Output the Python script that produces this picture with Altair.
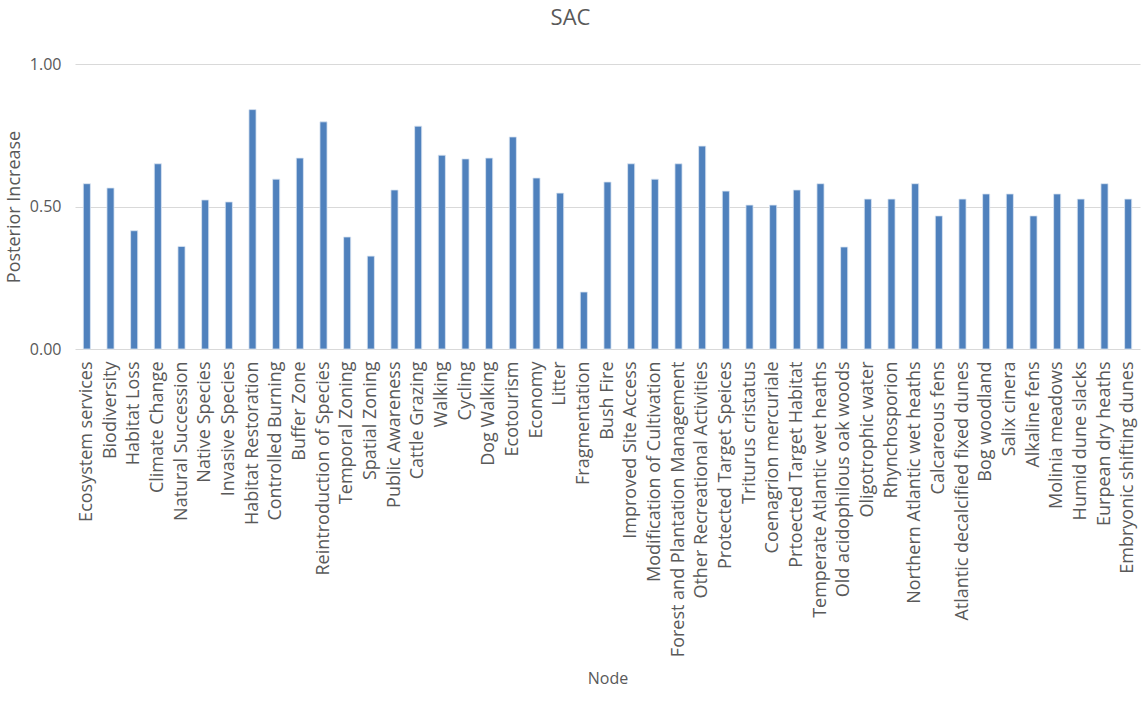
import altair as alt
import pandas as pd

nodes = [
    "Ecosystem services", "Biodiversity", "Habitat Loss", "Climate Change",
    "Natural Succession", "Native Species", "Invasive Species", "Habitat Restoration",
    "Controlled Burning", "Buffer Zone", "Reintroduction of Species", "Temporal Zoning",
    "Spatial Zoning", "Public Awareness", "Cattle Grazing", "Walking", "Cycling",
    "Dog Walking", "Ecotourism", "Economy", "Litter", "Fragmentation", "Bush Fire",
    "Improved Site Access", "Modification of Cultivation",
    "Forest and Plantation Management", "Other Recreational Activities",
    "Protected Target Speices", "Triturus cristatus", "Coenagrion mercuriale",
    "Prtoected Target Habitat", "Temperate Atlantic wet heaths",
    "Old acidophilous oak woods", "Oligotrophic water", "Rhynchosporion",
    "Northern Atlantic wet heaths", "Calcareous fens",
    "Atlantic decalcified fixed dunes", "Bog woodland", "Salix cinera",
    "Alkaline fens", "Molinia meadows", "Humid dune slacks", "Eurpean dry heaths",
    "Embryonic shifting dunes",
]
posterior_increase = [
    0.58, 0.565, 0.415, 0.65, 0.36, 0.523, 0.516, 0.84,
    0.596, 0.67, 0.797, 0.393, 0.326, 0.558, 0.782, 0.68, 0.667,
    0.67, 0.744, 0.60, 0.547, 0.20, 0.586, 0.65, 0.596,
    0.65, 0.712, 0.554, 0.505, 0.505, 0.558, 0.58,
    0.358, 0.526, 0.526, 0.58, 0.467, 0.526, 0.544, 0.544,
    0.467, 0.544, 0.526, 0.58, 0.526,
]

df = pd.DataFrame({"Node": nodes, "Value": posterior_increase})

FONT = "Open Sans"
GREY = "#595959"

chart = alt.Chart(df).mark_bar(
    color="#4F81BD", stroke="#DCE6F2", strokeWidth=0.8
).encode(
    x=alt.X("Node:N", sort=nodes, title="Node",
            scale=alt.Scale(paddingInner=0.7, paddingOuter=0.35),
            axis=alt.Axis(labelAngle=-90, labelPadding=12, ticks=False, domain=False,
                          labelFontSize=18, labelColor=GREY, labelFont=FONT,
                          titleFontSize=16, titleColor=GREY, titleFont=FONT,
                          titleFontWeight="normal", titleY=329, titleBaseline="middle",
                          labelLimit=400)),
    y=alt.Y("Value:Q", title="Posterior Increase",
            scale=alt.Scale(domain=[0, 1]),
            axis=alt.Axis(values=[0, 0.5, 1], format=".2f", ticks=False, domain=False,
                          labelFontSize=16, labelColor=GREY, labelFont=FONT,
                          labelPadding=14, gridColor="#D9D9D9", gridWidth=1,
                          titleFontSize=18, titleColor=GREY, titleFont=FONT,
                          titleFontWeight="normal", titlePadding=6)),
).properties(
    width=1065, height=285,
    title=alt.Title("SAC", fontSize=22, color=GREY, font=FONT, fontWeight="normal",
                    anchor="middle", dx=-37, offset=26),
    autosize=alt.AutoSizeParams(type="none"),
    padding={"left": 75, "top": 64, "right": 1, "bottom": 368},
).configure_view(stroke=None)

chart.save("out.html", embed_options={"renderer": "svg", "actions": False})
